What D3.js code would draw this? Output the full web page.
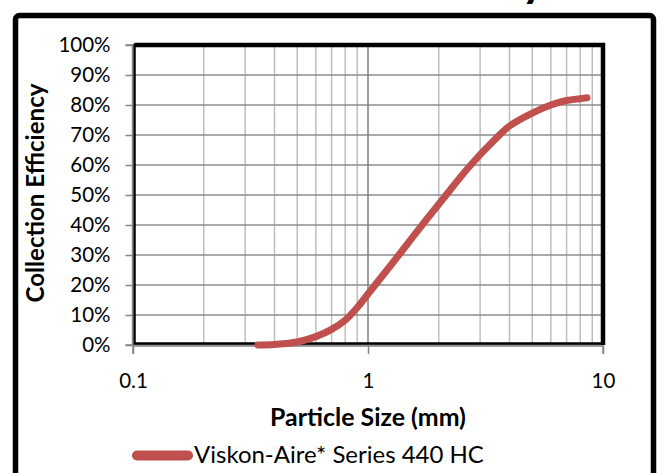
<!DOCTYPE html>
<html>
<head>
<meta charset="utf-8">
<script src="https://cdn.jsdelivr.net/npm/d3@7"></script>
<style>
  html, body { margin: 0; padding: 0; background: #fff; }
  svg text { font-family: Lato, "Noto Sans", sans-serif; fill: #000; }
</style>
</head>
<body>
<div id="chart"></div>
<script>
// data
const sizes = [0.34, 0.4, 0.5, 0.6, 0.7, 0.8, 0.9, 1.0, 1.4, 1.7, 2.1, 2.7, 3.5, 4, 5, 6, 7, 8, 8.55];
const efficiency = [0, 0.002, 0.01, 0.028, 0.052, 0.083, 0.125, 0.17, 0.315, 0.40, 0.49, 0.595, 0.688, 0.73, 0.773, 0.80, 0.815, 0.821, 0.824];
const yTicks = [0, 0.1, 0.2, 0.3, 0.4, 0.5, 0.6, 0.7, 0.8, 0.9, 1.0];
const xMajor = [0.1, 1, 10];
const xMinor = [0.2, 0.3, 0.4, 0.5, 0.6, 0.7, 0.8, 0.9, 2, 3, 4, 5, 6, 7, 8, 9];
const seriesName = "Viskon-Aire* Series 440 HC";

const width = 659, height = 473;
const pLeft = 133, pRight = 603, pTop = 45, pBottom = 345;

const svg = d3.select("#chart")
  .append("svg")
  .attr("width", width)
  .attr("height", height);

// fit a text element to a target width by changing its font size
function fit(sel, target) {
  const node = sel.node();
  const fs = parseFloat(sel.attr("font-size"));
  const len = node.getComputedTextLength();
  sel.attr("font-size", (fs * target / len).toFixed(2));
}

// outer frame (bottom edge falls outside the picture)
svg.append("rect")
  .attr("x", 15.5).attr("y", 15.5)
  .attr("width", 638).attr("height", 500)
  .attr("rx", 4)
  .attr("fill", "none")
  .attr("stroke", "#000")
  .attr("stroke-width", 5.5);

// title, cut off at the top like in the reference
const title = svg.append("text")
  .attr("x", 334).attr("y", -4)
  .attr("text-anchor", "middle")
  .attr("font-size", 40)
  .attr("font-weight", "bold")
  .text("Collection Efficiency");
fit(title, 424);

const x = d3.scaleLog().domain([0.1, 10]).range([pLeft, pRight]);
const y = d3.scaleLinear().domain([0, 1]).range([pBottom, pTop]);

// grid
const grid = svg.append("g");
grid.selectAll(".minor")
  .data(xMinor)
  .join("line")
  .attr("x1", d => x(d)).attr("x2", d => x(d))
  .attr("y1", pTop).attr("y2", pBottom)
  .attr("stroke", "#bfbfbf")
  .attr("stroke-width", 1.5);
grid.selectAll(".hgrid")
  .data(yTicks)
  .join("line")
  .attr("x1", pLeft).attr("x2", pRight)
  .attr("y1", d => y(d)).attr("y2", d => y(d))
  .attr("stroke", "#8c8c8c")
  .attr("stroke-width", 1.5);
grid.append("line")
  .attr("x1", x(1)).attr("x2", x(1))
  .attr("y1", pTop).attr("y2", pBottom)
  .attr("stroke", "#7f7f7f")
  .attr("stroke-width", 1.5);

// plot area border
svg.append("rect")
  .attr("x", pLeft + 1.5).attr("y", pTop)
  .attr("width", pRight - pLeft - 1.5).attr("height", pBottom - pTop - 1.5)
  .attr("fill", "none")
  .attr("stroke", "#000")
  .attr("stroke-width", 2.5);
svg.append("path")
  .attr("d", `M${pLeft + 1.5},${pTop} H${pRight} V${pBottom}`)
  .attr("fill", "none")
  .attr("stroke", "#000")
  .attr("stroke-width", 4.5);

// axes
const yAxis = d3.axisLeft(y)
  .tickValues(yTicks)
  .tickFormat(d3.format(".0%"))
  .tickSize(7)
  .tickPadding(15);
const gy = svg.append("g")
  .attr("transform", `translate(${pLeft - 0.5},0)`)
  .call(yAxis);

const xAxis = d3.axisBottom(x)
  .tickValues(xMajor)
  .tickFormat(d => String(d))
  .tickSize(8)
  .tickPadding(19);
const gx = svg.append("g")
  .attr("transform", `translate(0,${pBottom + 1})`)
  .call(xAxis);

[gy, gx].forEach(g => {
  g.select(".domain").attr("stroke", "#868686").attr("stroke-width", 1.5);
  g.selectAll(".tick line").attr("stroke", "#868686").attr("stroke-width", 1.5);
  g.selectAll("text")
    .attr("font-size", 20.5)
    .attr("font-family", "Lato, 'Noto Sans', sans-serif")
    .attr("fill", "#000");
});
gy.select(".domain").attr("d", `M-7,${pTop}H0V${pBottom}H-7`);
gx.select(".domain").attr("d", `M${pLeft},8V0H${pRight}V8`);

// series line (smoothed like the spreadsheet's curve)
const line = d3.line()
  .x((d, i) => x(sizes[i]))
  .y(d => y(d))
  .curve(d3.curveCatmullRom.alpha(0.5));

svg.append("path")
  .datum(efficiency)
  .attr("d", line)
  .attr("fill", "none")
  .attr("stroke", "#c0504d")
  .attr("stroke-width", 7)
  .attr("stroke-linecap", "round")
  .attr("stroke-linejoin", "round");

// axis titles
const xTitle = svg.append("text")
  .attr("x", (pLeft + pRight) / 2).attr("y", 426)
  .attr("text-anchor", "middle")
  .attr("font-size", 19)
  .attr("font-weight", "bold")
  .text("Particle Size (mm)");
fit(xTitle, 196);

const yTitle = svg.append("text")
  .attr("transform", `translate(44,${(pTop + pBottom) / 2 - 2}) rotate(-90)`)
  .attr("text-anchor", "middle")
  .attr("font-size", 19)
  .attr("font-weight", "bold")
  .text("Collection Efficiency");
fit(yTitle, 219);

// legend
svg.append("line")
  .attr("x1", 137).attr("x2", 188)
  .attr("y1", 455.5).attr("y2", 455.5)
  .attr("stroke", "#c0504d")
  .attr("stroke-width", 10)
  .attr("stroke-linecap", "round");
const legendText = svg.append("text")
  .attr("x", 194).attr("y", 463)
  .attr("font-size", 20)
  .text(seriesName);
fit(legendText, 290);
</script>
</body>
</html>
